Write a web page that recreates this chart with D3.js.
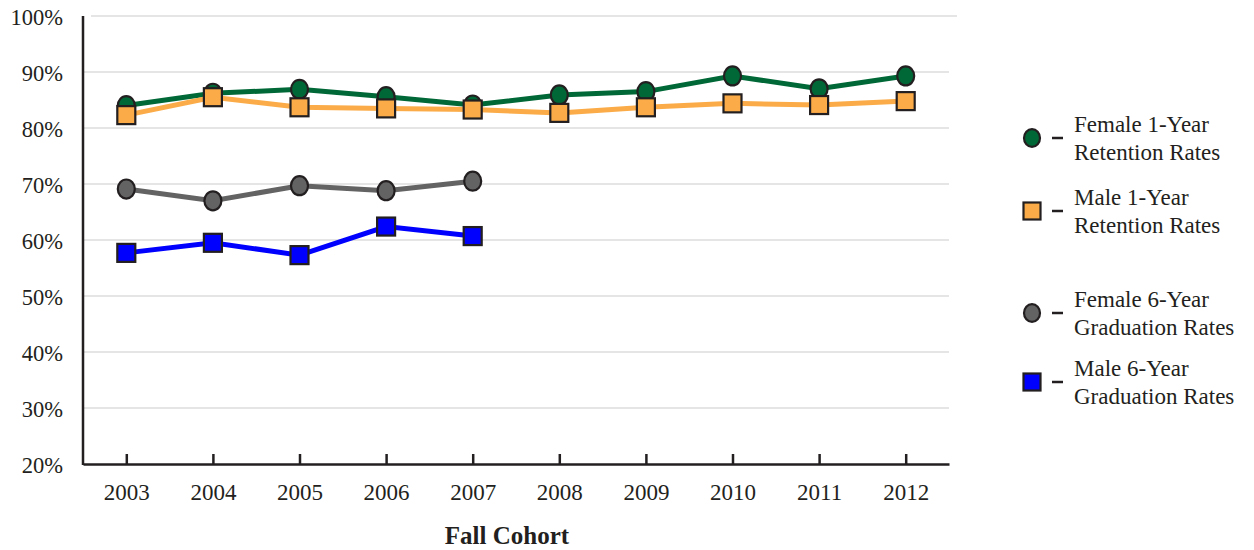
<!DOCTYPE html>
<html>
<head>
<meta charset="utf-8">
<script src="https://cdn.jsdelivr.net/npm/d3@7"></script>
<style>
  body { margin: 0; background: #fff; }
  svg text { font-family: "Liberation Serif", "DejaVu Serif", serif; fill: #231f20; }
</style>
</head>
<body>
<svg id="chart" width="1254" height="550"></svg>
<script>
// podatki
const years = ["2003","2004","2005","2006","2007","2008","2009","2010","2011","2012"];
const yTicks = [20, 30, 40, 50, 60, 70, 80, 90, 100];

const femaleRetention = [84.0, 86.2, 86.9, 85.6, 84.1, 85.9, 86.5, 89.3, 87.0, 89.3];
const maleRetention   = [82.3, 85.5, 83.7, 83.5, 83.3, 82.7, 83.7, 84.4, 84.1, 84.8];
const femaleGrad      = [69.1, 67.0, 69.7, 68.8, 70.5];
const maleGrad        = [57.7, 59.5, 57.3, 62.4, 60.7];

const seriesNames = ["Female 1-Year|Retention Rates", "Male 1-Year|Retention Rates",
                     "Female 6-Year|Graduation Rates", "Male 6-Year|Graduation Rates"];

const series = [
  {name: seriesNames[0], values: femaleRetention, color: "#006837", shape: "circle"},
  {name: seriesNames[1], values: maleRetention,   color: "#fbac48", shape: "square"},
  {name: seriesNames[2], values: femaleGrad,      color: "#636363", shape: "circle"},
  {name: seriesNames[3], values: maleGrad,        color: "#0000ff", shape: "square"}
];

const svg = d3.select("#chart");
const plotLeft = 83, plotRight = 949, plotTop = 16, plotBottom = 464;
const ink = "#231f20";

const x = d3.scalePoint().domain(years).range([plotLeft, plotRight]).padding(0.5);
const y = d3.scaleLinear().domain([20, 100]).range([plotBottom, plotTop]);

// mreža
svg.append("g")
  .selectAll("line")
  .data(yTicks.filter(d => d > 20))
  .join("line")
    .attr("x1", d => d === 100 ? plotLeft + 8 : plotLeft)
    .attr("x2", d => d === 100 ? plotRight + 8 : plotRight)
    .attr("y1", d => y(d))
    .attr("y2", d => y(d))
    .attr("stroke", "#dcdcdc")
    .attr("stroke-width", 1.5);

// y os - samo oznake
svg.append("g")
  .selectAll("text")
  .data(yTicks)
  .join("text")
    .attr("x", 63)
    .attr("y", d => y(d) + 1)
    .attr("dy", "0.35em")
    .attr("text-anchor", "end")
    .attr("font-size", 22.5)
    .text(d => d + "%");

// osi
svg.append("line")
  .attr("x1", plotLeft).attr("x2", plotLeft)
  .attr("y1", plotTop).attr("y2", plotBottom + 1)
  .attr("stroke", ink).attr("stroke-width", 2.5);

const xAxis = svg.append("g")
  .attr("transform", `translate(0,${plotBottom})`)
  .call(d3.axisBottom(x).tickSizeInner(-10).tickSizeOuter(0).tickPadding(20));
xAxis.select(".domain").attr("stroke", ink).attr("stroke-width", 2.5);
xAxis.selectAll(".tick line").attr("stroke", ink).attr("stroke-width", 2.5);
xAxis.selectAll(".tick text")
  .attr("font-size", 23)
  .attr("font-family", "Liberation Serif, serif")
  .attr("fill", ink);

svg.append("text")
  .attr("x", 507)
  .attr("y", 544)
  .attr("text-anchor", "middle")
  .attr("font-size", 25)
  .attr("font-weight", "bold")
  .text("Fall Cohort");

// črte
const line = d3.line()
  .x((d, i) => x(years[i]))
  .y(d => y(d));

function drawMarker(sel, shape, color, size) {
  if (shape === "circle") {
    sel.append("ellipse")
      .attr("rx", size * 0.5)
      .attr("ry", size * 0.56)
      .attr("fill", color)
      .attr("stroke", ink)
      .attr("stroke-width", 2.2);
  } else {
    sel.append("rect")
      .attr("x", -size / 2).attr("y", -size / 2)
      .attr("width", size).attr("height", size)
      .attr("fill", color)
      .attr("stroke", ink)
      .attr("stroke-width", 2.2);
  }
}

series.forEach(s => {
  const g = svg.append("g");
  g.append("path")
    .datum(s.values)
    .attr("d", line)
    .attr("fill", "none")
    .attr("stroke", s.color)
    .attr("stroke-width", 5);
  g.selectAll("g.pt")
    .data(s.values)
    .join("g")
      .attr("class", "pt")
      .attr("transform", (d, i) => `translate(${x(years[i])},${y(d)})`)
      .each(function() { drawMarker(d3.select(this), s.shape, s.color, s.shape === "circle" ? 17 : 18); });
});

// legenda
const legendY = [138, 211, 313, 382];
const legend = svg.append("g");
series.forEach((s, i) => {
  const item = legend.append("g").attr("transform", `translate(1032,${legendY[i]})`);
  drawMarker(item, s.shape, s.color, s.shape === "circle" ? 16 : 17);
  item.append("line")
    .attr("x1", 20).attr("x2", 31)
    .attr("y1", 0).attr("y2", 0)
    .attr("stroke", ink).attr("stroke-width", 2.5);
  const parts = s.name.split("|");
  item.selectAll("text")
    .data(parts)
    .join("text")
      .attr("x", 42)
      .attr("y", (d, k) => -14 + k * 28)
      .attr("dy", "0.35em")
      .attr("font-size", 23)
      .text(d => d);
});
</script>
</body>
</html>
